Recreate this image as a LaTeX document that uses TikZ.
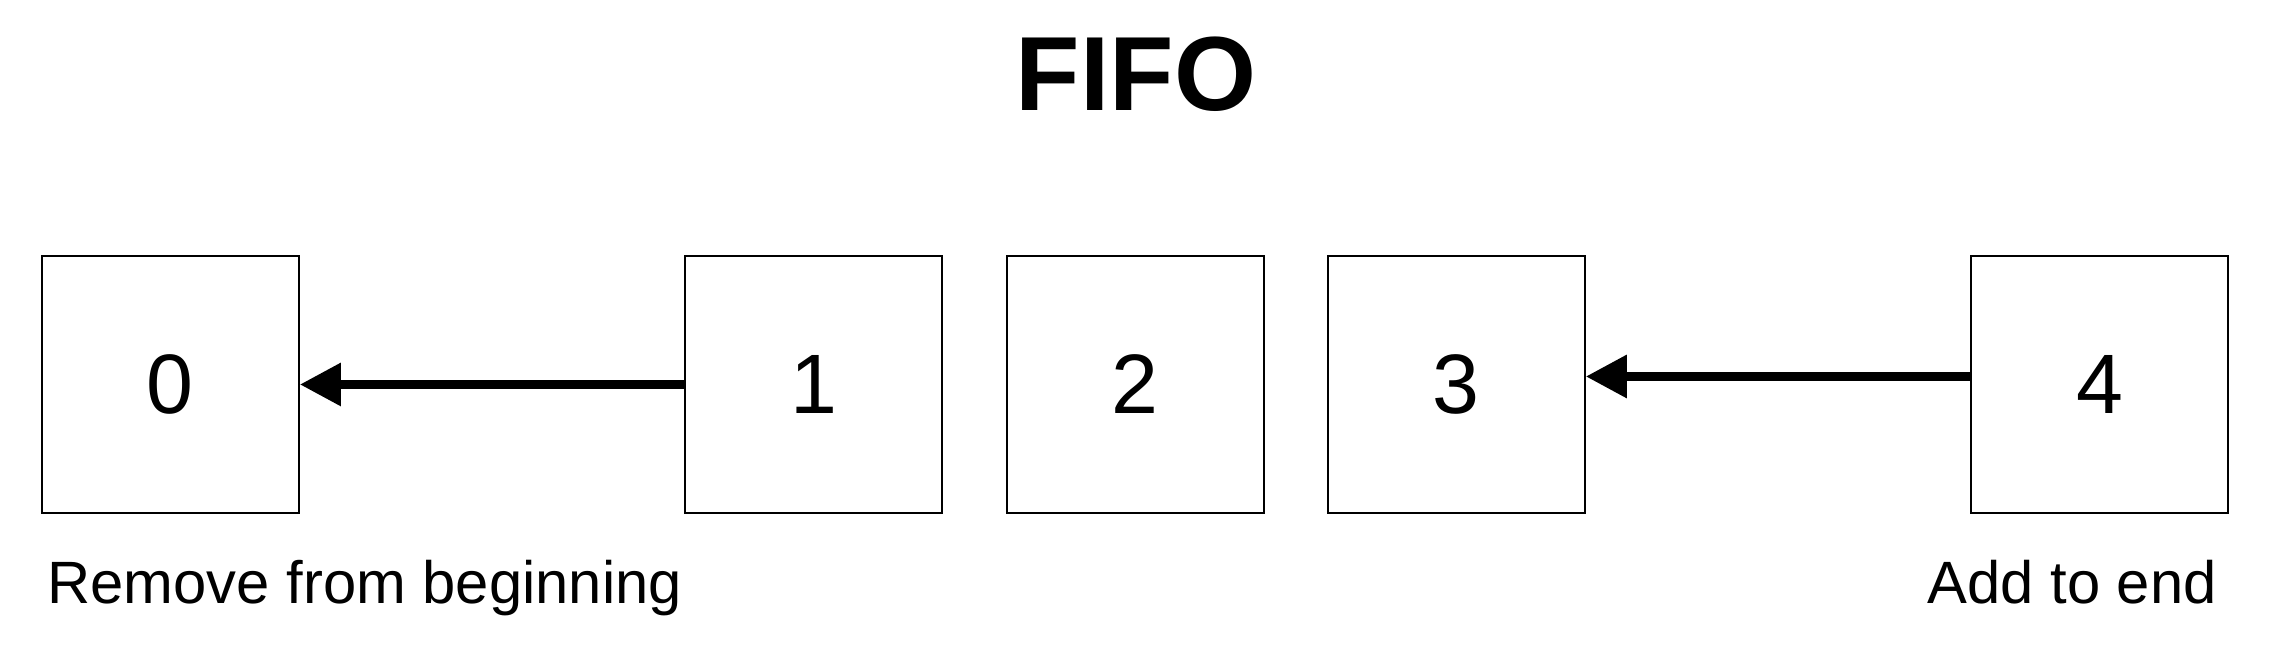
\documentclass[tikz,border=0pt]{standalone}
\usepackage{fontspec}
\setmainfont{Liberation Sans}
\usetikzlibrary{
    arrows.meta,
    positioning
}

\begin{document}
\begin{tikzpicture}[
    node distance=0.622cm,
    cell/.style={
      draw,
      line width=0.02cm,
      minimum size=2.57cm,
      inner sep=0pt,
      font=\fontsize{24}{28}\selectfont
    },
    caption/.style={
      inner sep=0pt,
      font=\fontsize{17}{20}\selectfont
    },
    push/.style={
      line width=0.09cm,
      -{Triangle[length=0.41cm, width=0.41cm]}
    }
  ]

  \useasboundingbox (0,0) rectangle (22.78,6.48);

  % title {{{
  \node[
    inner sep=0pt,
    font=\bfseries\fontsize{30}{36}\selectfont,
    anchor=base
  ] (title) at (11.36,5.37) {FIFO};
  % }}}

  % queue cells {{{
  \node[cell] (q0) at (1.7035,2.635) {0};
  \node[cell, right=3.845cm of q0] (q1) {1};
  \node[cell, right=of q1] (q2) {2};
  \node[cell, right=of q2] (q3) {3};
  \node[cell, right=3.845cm of q3] (q4) {4};
  % }}}

  % moves {{{
  \draw[push] (q1.west) -- (q0.east);
  \draw[push] ([yshift=0.08cm]q4.west) -- ([yshift=0.08cm]q3.east);
  % }}}

  % captions {{{
  \node[caption, anchor=base west] (front)
    at ([xshift=0.06cm, yshift=-0.9cm]q0.south west) {Remove from beginning};
  \node[caption, anchor=base east] (back)
    at ([xshift=-0.12cm, yshift=-0.9cm]q4.south east) {Add to end};
  % }}}

\end{tikzpicture}
\end{document}
